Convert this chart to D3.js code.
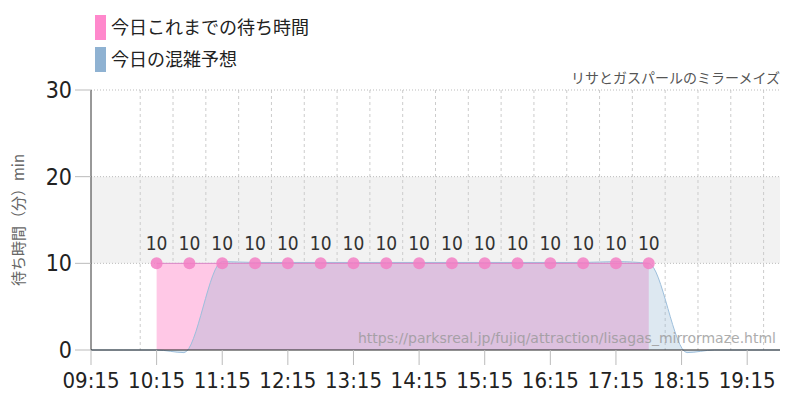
<!DOCTYPE html>
<html><head><meta charset="utf-8">
<script src="https://cdn.jsdelivr.net/npm/d3@7"></script>
<style>body{margin:0;background:#fff}svg{display:block}.nar{font-family:"DejaVu Sans Condensed","DejaVu Sans",sans-serif;font-stretch:condensed}</style>
</head><body><div id="chart"></div>
<script>
// 待ち時間 data
const waitTimes = ['10:15','10:45','11:15','11:45','12:15','12:45','13:15','13:45','14:15','14:45','15:15','15:45','16:15','16:45','17:15','17:45'];
const waitValues = [10,10,10,10,10,10,10,10,10,10,10,10,10,10,10,10];
const forecastTimes = ['09:15','09:45','10:15','10:40','11:15','11:45','12:15','12:45','13:15','13:45','14:15','14:45','15:15','15:45','16:15','16:45','17:15','17:45','18:20','18:45','19:15','19:45'];
const forecastValues = [0,0,0,-0.3,10.2,10.1,10.1,10.1,10.1,10.1,10.1,10.1,10.1,10.1,10.1,10.1,10.2,10,-0.3,0,0,0];
const xTicks = ['09:15','10:15','11:15','12:15','13:15','14:15','15:15','16:15','17:15','18:15','19:15'];
const yTicks = [0,10,20,30];

(function(){
  const W = 800, H = 400;
  const margin = {top:90, right:20, bottom:50, left:91};
  const innerW = W - margin.left - margin.right, innerH = H - margin.top - margin.bottom;
  const parse = d3.timeParse('%H:%M');
  const jp = '"Noto Sans CJK JP",sans-serif';

  const svg = d3.select('#chart').append('svg').attr('width', W).attr('height', H);
  const g = svg.append('g').attr('transform', `translate(${margin.left},${margin.top})`);

  const x = d3.scaleTime().domain([parse('09:15'), parse('19:45')]).range([0, innerW]);
  const y = d3.scaleLinear().domain([0, 30]).range([innerH, 0]);

  // gray band 10-20
  g.append('rect').attr('x',0).attr('width',innerW)
    .attr('y', y(20)).attr('height', y(10)-y(20)).attr('fill','#f2f2f2');

  // vertical gridlines every 30 min
  const halfHours = d3.timeMinute.every(30).range(parse('09:45'), parse('19:46'));
  g.selectAll('.vg').data(halfHours).enter().append('line')
    .attr('x1', d=>x(d)).attr('x2', d=>x(d)).attr('y1',0).attr('y2',innerH)
    .attr('stroke','#ccc').attr('stroke-dasharray','3,3');
  g.selectAll('.hg').data(yTicks.slice(1)).enter().append('line')
    .attr('x1',0).attr('x2',innerW).attr('y1',d=>y(d)).attr('y2',d=>y(d))
    .attr('stroke','#bbb').attr('stroke-dasharray','1,2');

  const wait = waitTimes.map((t,i)=>({t:parse(t), v:waitValues[i]}));
  const fc = forecastTimes.map((t,i)=>({t:parse(t), v:forecastValues[i]}));

  g.append('path').datum(wait)
    .attr('d', d3.area().x(d=>x(d.t)).y0(y(0)).y1(d=>y(d.v)))
    .attr('fill','#ffc8e6');
  const fcurve = d3.curveMonotoneX;
  g.append('path').datum(fc)
    .attr('d', d3.area().curve(fcurve).x(d=>x(d.t)).y0(y(0)).y1(d=>y(d.v)))
    .attr('fill','rgba(143,178,210,0.3)');
  g.append('path').datum(fc)
    .attr('d', d3.line().curve(fcurve).x(d=>x(d.t)).y(d=>y(d.v)))
    .attr('fill','none').attr('stroke','#9dbfdc').attr('stroke-width',1);
  g.append('path').datum(wait)
    .attr('d', d3.line().x(d=>x(d.t)).y(d=>y(d.v)))
    .attr('fill','none').attr('stroke','#d884c4').attr('stroke-width',1);

  g.selectAll('.dot').data(wait).enter().append('circle')
    .attr('cx', d=>x(d.t)).attr('cy', d=>y(d.v)).attr('r',6)
    .attr('fill','#f37fc4').attr('opacity',0.85);
  g.selectAll('.lbl').data(wait).enter().append('text').attr('class','nar')
    .attr('x', d=>x(d.t)).attr('y', d=>y(d.v)-13)
    .attr('text-anchor','middle').attr('font-size',19)
    .attr('fill','#333').text(d=>d.v);

  // axes
  g.append('line').attr('x1',0).attr('x2',innerW).attr('y1',innerH).attr('y2',innerH).attr('stroke','#222');
  g.append('line').attr('x1',0).attr('x2',0).attr('y1',0).attr('y2',innerH).attr('stroke','#333');
  g.selectAll('.yt').data(yTicks).enter().append('line')
    .attr('x1',-16).attr('x2',0).attr('y1',d=>y(d)).attr('y2',d=>y(d)).attr('stroke','#bbb');
  g.selectAll('.ytl').data(yTicks).enter().append('text').attr('class','nar')
    .attr('x',-19).attr('y',d=>y(d)+8).attr('text-anchor','end')
    .attr('font-size',23).attr('fill','#222').text(d=>d);
  g.selectAll('.xt').data(xTicks).enter().append('line')
    .attr('x1',d=>x(parse(d))).attr('x2',d=>x(parse(d))).attr('y1',innerH).attr('y2',innerH+15).attr('stroke','#bbb');
  g.selectAll('.xtl').data(xTicks).enter().append('text').attr('class','nar')
    .attr('x',d=>x(parse(d))).attr('y',innerH+38).attr('text-anchor','middle')
    .attr('font-size',22).attr('fill','#222')
    .text(d=>d);

  svg.append('text').attr('transform','translate(24,220) rotate(-90)')
    .attr('text-anchor','middle').attr('font-family',jp).attr('font-size',15).attr('fill','#666')
    .text('待ち時間（分）min');
  svg.append('text').attr('x',780).attr('y',83).attr('text-anchor','end')
    .attr('font-family',jp).attr('font-size',14).attr('fill','#555').text('リサとガスパールのミラーメイズ');
  svg.append('text').attr('x',776).attr('y',343).attr('text-anchor','end')
    .attr('font-family','"DejaVu Sans",sans-serif').attr('font-size',14).attr('fill','#999').attr('opacity',0.8)
    .text('https://parksreal.jp/fujiq/attraction/lisagas_mirrormaze.html');

  const legend = [['今日これまでの待ち時間','#ff88cc'],['今日の混雑予想','#8fb2d2']];
  legend.forEach((d,i)=>{
    svg.append('rect').attr('x',95).attr('y',15+i*32).attr('width',11).attr('height',25).attr('fill',d[1]);
    svg.append('text').attr('x',111).attr('y',34+i*32).attr('font-family',jp).attr('font-size',18)
      .attr('fill','#222').text(d[0]);
  });
})();
</script></body></html>
